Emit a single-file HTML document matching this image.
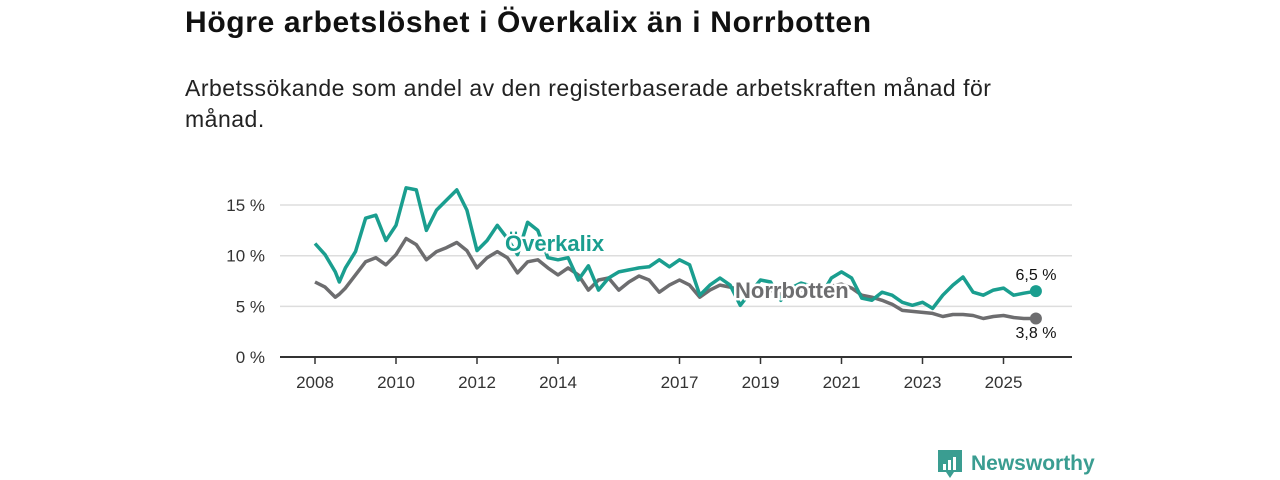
<!DOCTYPE html>
<html><head><meta charset="utf-8"><style>
body{margin:0;width:1280px;height:480px;background:#fff;font-family:"Liberation Sans","DejaVu Sans",sans-serif;overflow:hidden;position:relative}
h1{position:absolute;left:185px;top:6px;margin:0;font-size:30px;letter-spacing:0.65px;font-weight:bold;color:#111}
p.sub{position:absolute;left:185px;top:73px;margin:0;width:850px;font-size:23px;letter-spacing:0.5px;line-height:31px;color:#222}
svg{position:absolute;left:0;top:0}
</style></head><body>
<h1>Högre arbetslöshet i Överkalix än i Norrbotten</h1>
<p class="sub">Arbetssökande som andel av den registerbaserade arbetskraften månad för månad.</p>
<svg id="chart" width="1280" height="480"></svg>
<script>
const dates=[2008,2008.25,2008.5,2008.6,2008.75,2009,2009.25,2009.5,2009.75,2010,2010.25,2010.5,2010.75,2011,2011.25,2011.5,2011.75,2012,2012.25,2012.5,2012.75,2013,2013.25,2013.5,2013.75,2014,2014.25,2014.5,2014.75,2015,2015.25,2015.5,2015.75,2016,2016.25,2016.5,2016.75,2017,2017.25,2017.5,2017.75,2018,2018.25,2018.5,2018.75,2019,2019.25,2019.5,2019.75,2020,2020.25,2020.5,2020.75,2021,2021.25,2021.5,2021.75,2022,2022.25,2022.5,2022.75,2023,2023.25,2023.5,2023.75,2024,2024.25,2024.5,2024.75,2025,2025.25,2025.5,2025.8];
const overkalix=[11.2,10.1,8.4,7.4,8.8,10.4,13.7,14.0,11.5,13.0,16.7,16.5,12.5,14.5,15.5,16.5,14.5,10.5,11.5,13.0,11.7,10.1,13.3,12.5,9.8,9.6,9.8,7.6,9.0,6.6,7.8,8.4,8.6,8.8,8.9,9.6,8.9,9.6,9.1,6.1,7.1,7.8,7.1,5.1,6.4,7.6,7.4,5.6,6.8,7.3,7.0,6.1,7.8,8.4,7.8,5.8,5.6,6.4,6.1,5.4,5.1,5.4,4.8,6.1,7.1,7.9,6.4,6.1,6.6,6.8,6.1,6.3,6.5];
const norrbotten=[7.4,6.9,5.9,6.2,6.8,8.1,9.4,9.8,9.1,10.1,11.7,11.1,9.6,10.4,10.8,11.3,10.5,8.8,9.8,10.4,9.8,8.3,9.4,9.6,8.8,8.1,8.8,8.1,6.6,7.6,7.8,6.6,7.4,8.0,7.6,6.4,7.1,7.6,7.1,5.9,6.6,7.1,6.9,6.6,6.8,6.6,6.6,6.2,6.4,6.6,6.4,6.4,7.0,7.2,6.8,6.1,5.9,5.6,5.2,4.6,4.5,4.4,4.3,4.0,4.2,4.2,4.1,3.8,4.0,4.1,3.9,3.8,3.8];
const yTicks=[0,5,10,15];
const yTickLabels=["0 %","5 %","10 %","15 %"];
const xTicks=[2008,2010,2012,2014,2017,2019,2021,2023,2025];
const xTickLabels=["2008","2010","2012","2014","2017","2019","2021","2023","2025"];
const NS="http://www.w3.org/2000/svg";
const svg=document.getElementById('chart');
const X=d=>315+(d-2008)*40.5;
const Y=v=>357-v*10.13;
function mk(t,a,txt){const e=document.createElementNS(NS,t);for(const k in a)e.setAttribute(k,a[k]);if(txt!==undefined)e.textContent=txt;svg.appendChild(e);return e;}
yTicks.forEach((v,i)=>{
 const g=mk('line',{x1:280,x2:1072,y1:Y(v),y2:Y(v),stroke:v===0?'#333':'#ddd','stroke-width':v===0?2:1.5});
 
 
 const t=mk('text',{x:265,y:Y(v)+6,'text-anchor':'end','font-size':17,fill:'#333'},yTickLabels[i]);
 
 
});
xTicks.forEach((d,i)=>{
 const l=mk('line',{x1:X(d),x2:X(d),y1:357,y2:364,stroke:'#333','stroke-width':1.5});
 
 
 const t=mk('text',{x:X(d),y:388,'text-anchor':'middle','font-size':17,fill:'#333'},xTickLabels[i]);
 
 
});
function line(vals,color,name){
 const p=mk('path',{d:vals.map((v,i)=>(i?'L':'M')+X(dates[i]).toFixed(1)+','+Y(v).toFixed(1)).join(''),fill:'none',stroke:color,'stroke-width':3.5,'stroke-linejoin':'round'});
 
 
 const n=vals.length-1;
 const c=mk('circle',{cx:X(dates[n]),cy:Y(vals[n]),r:6,fill:color});
 
 
}
line(norrbotten,'#6d6d6f','norrbotten-line');
line(overkalix,'#1a9e8f','overkalix-line');
function lab(x,y,txt,color,name){
 const t=mk('text',{x:x,y:y,'font-size':22,'font-weight':'bold',fill:color,stroke:'#fff','stroke-width':5,'paint-order':'stroke'},txt);
 
 
}
lab(505,251,'Överkalix','#1a9e8f','overkalix-label');
lab(735,298,'Norrbotten','#6d6d6f','norrbotten-label');
const e1=mk('text',{x:1036,y:280,'text-anchor':'middle','font-size':16,fill:'#111'},'6,5 %');


const e2=mk('text',{x:1036,y:338,'text-anchor':'middle','font-size':16,fill:'#111'},'3,8 %');


const lg=mk('g',{});


const ic=document.createElementNS(NS,'path');
ic.setAttribute('d','M938 450h24v22h-8l-4 6-4-6h-8z');ic.setAttribute('fill','#3a9d91');lg.appendChild(ic);
[[943,464,3,6],[948,460,3,10],[953,457,3,13]].forEach(b=>{const r=document.createElementNS(NS,'rect');r.setAttribute('x',b[0]);r.setAttribute('y',b[1]);r.setAttribute('width',b[2]);r.setAttribute('height',b[3]);r.setAttribute('fill','#fff');lg.appendChild(r);});
const lt=document.createElementNS(NS,'text');
lt.setAttribute('x',971);lt.setAttribute('y',470);lt.setAttribute('font-size',21);lt.setAttribute('font-weight','600');lt.setAttribute('fill','#3a9d91');lt.textContent='Newsworthy';lg.appendChild(lt);
</script>
</body></html>
